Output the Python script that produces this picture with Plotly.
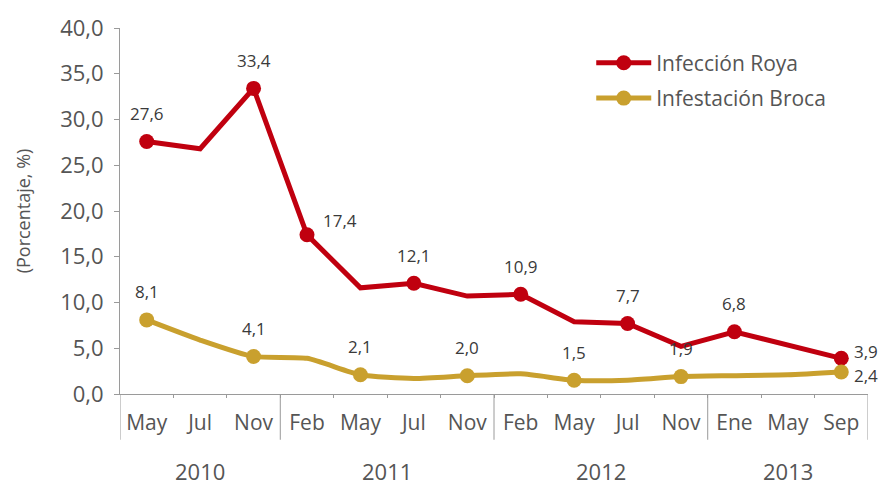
import plotly.graph_objects as go

# ---- data ----
months = ["May", "Jul", "Nov", "Feb", "May", "Jul", "Nov", "Feb", "May", "Jul", "Nov", "Ene", "May", "Sep"]
years = ["2010"] * 3 + ["2011"] * 4 + ["2012"] * 4 + ["2013"] * 3
roya = [27.6, 26.8, 33.4, 17.4, 11.6, 12.1, 10.7, 10.9, 7.9, 7.7, 5.2, 6.8, None, 3.9]
broca = [8.1, 5.9, 4.1, 3.9, 2.1, 1.7, 2.0, 2.2, 1.5, 1.5, 1.9, 2.0, 2.1, 2.4]
roya_labeled = [1, 0, 1, 1, 0, 1, 0, 1, 0, 1, 0, 1, 0, 1]
broca_labeled = [1, 0, 1, 0, 1, 0, 1, 0, 1, 0, 1, 0, 0, 1]

RED = "#C0000F"
GOLD = "#C9A02E"
FONT = "Open Sans"
TXT = "#3a3a3a"
GRAY = "#555555"
AXIS = "#9a9a9a"

x = list(range(len(months)))
fig = go.Figure()


def add_series(name, vals, flags, color, shape):
    fig.add_trace(go.Scatter(
        x=x, y=vals, mode="lines", line=dict(color=color, width=5, shape=shape, smoothing=0.6),
        connectgaps=True, showlegend=False, hoverinfo="skip"))
    mx = [xi for xi, f in zip(x, flags) if f]
    my = [v for v, f in zip(vals, flags) if f]
    fig.add_trace(go.Scatter(
        x=mx, y=my, mode="markers", marker=dict(color=color, size=15),
        showlegend=False))
    fig.add_trace(go.Scatter(
        x=[None], y=[None], mode="lines+markers", name=name, legendgroup=name,
        line=dict(color=color, width=5), marker=dict(color=color, size=15)))
    return mx, my


rx, ry = add_series("Infección Roya", roya, roya_labeled, RED, "linear")
bx, by = add_series("Infestación Broca", broca, broca_labeled, GOLD, "spline")


def fmt(v):
    return f"{v:.1f}".replace(".", ",")


last = len(months) - 1
annots = []
for xs, ys, ser in ((rx, ry, "r"), (bx, by, "b")):
    for xi, yi in zip(xs, ys):
        a = dict(x=xi, y=yi, xref="x", yref="y", text=fmt(yi), showarrow=False,
                 font=dict(family=FONT, size=17, color=TXT))
        if xi == last:
            a.update(xanchor="left", yanchor="middle", xshift=11, yshift=7 if ser == "r" else -3)
        elif ser == "r" and xi == 3:
            a.update(xanchor="center", yanchor="middle", xshift=33, yshift=14)
        else:
            a.update(xanchor="center", yanchor="middle", yshift=28)
        annots.append(a)

# year labels and dividers
order = []
for yv in years:
    if yv not in order:
        order.append(yv)
shapes = []
bounds = [-0.5]
for yv in order:
    idx = [i for i, v in enumerate(years) if v == yv]
    annots.append(dict(x=sum(idx) / len(idx), y=-0.21, xref="x", yref="paper", text=yv,
                       showarrow=False, yanchor="middle",
                       font=dict(family=FONT, size=22, color=GRAY)))
    bounds.append(idx[-1] + 0.5)
for b in bounds:
    shapes.append(dict(type="line", xref="x", yref="paper", x0=b, x1=b, y0=0, y1=-0.125,
                       line=dict(color=AXIS, width=1)))

fig.update_layout(
    width=893, height=485,
    margin=dict(l=120, r=25, t=20, b=91),
    plot_bgcolor="white", paper_bgcolor="white",
    separators=",.",
    font=dict(family=FONT, color=GRAY),
    annotations=annots, shapes=shapes,
    legend=dict(x=0.63, y=0.96, xanchor="left", yanchor="top",
                font=dict(family=FONT, size=21, color=GRAY),
                itemwidth=55, tracegroupgap=5, bgcolor="rgba(0,0,0,0)"),
    hovermode=False,
)
fig.update_xaxes(
    range=[-0.5, len(months) - 0.5], tickvals=x, ticktext=months,
    showgrid=False, zeroline=False, showline=True, linecolor=AXIS, linewidth=1,
    ticks="", ticklabelstandoff=10,
    tickfont=dict(family=FONT, size=21, color=GRAY),
    minor=dict(tickvals=[i + 0.5 for i in x[:-1]], ticks="outside", ticklen=3, tickcolor=AXIS),
)
fig.update_yaxes(
    range=[0, 40], dtick=5, tickformat=".1f",
    showgrid=False, zeroline=False, showline=True, linecolor=AXIS, linewidth=1,
    ticks="outside", ticklen=5, tickcolor=AXIS, ticklabelstandoff=6,
    tickfont=dict(family=FONT, size=22, color=GRAY),
    title=dict(text="(Porcentaje, %)", font=dict(family=FONT, size=18, color=GRAY), standoff=24),
)
fig.write_html("out.html")
